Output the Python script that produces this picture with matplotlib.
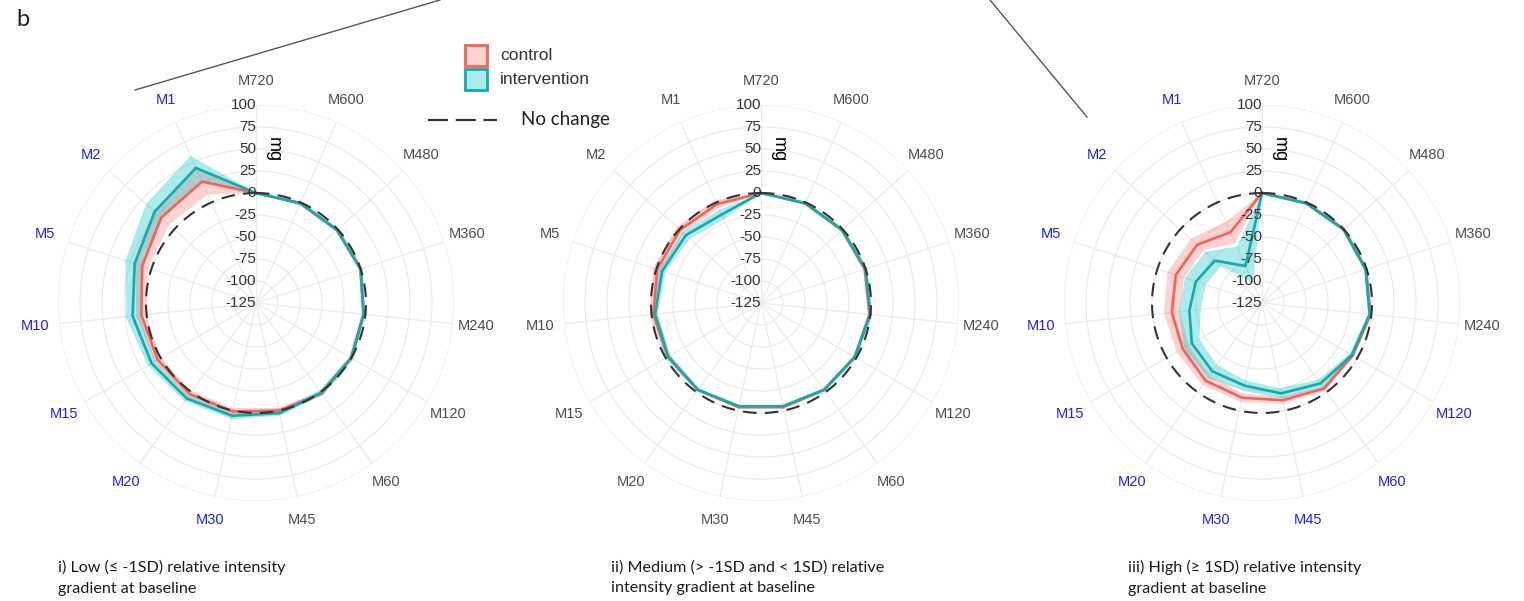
import numpy as np
import matplotlib
matplotlib.use("Agg")
import matplotlib.pyplot as plt
from matplotlib.lines import Line2D
from matplotlib.patches import Rectangle

# ---------------- data ----------------
categories = ["M720", "M600", "M480", "M360", "M240", "M120", "M60", "M45",
              "M30", "M20", "M15", "M10", "M5", "M2", "M1"]
radial_ticks = [100, 75, 50, 25, 0, -25, -50, -75, -100, -125]

# Panel i) Low
low_ctrl_mean = [0, -1, -1, 0, -2, 0, 2, 0, 1, 3, 4, 6, 11, 20, 26]
low_ctrl_lo   = [0, -3, -3, -2, -4, -3, -1, -3, -3, -1, 0, 1, 4, 8, 10]
low_ctrl_hi   = [0, 1, 1, 2, 0, 3, 5, 3, 5, 7, 8, 12, 19, 32, 42]
low_int_mean  = [0, -1, -1, 0, -2, 0, 1, 3, 6, 9, 12, 16, 20, 30, 43]
low_int_lo    = [0, -3, -3, -2, -4, -2, -2, 0, 3, 5, 7, 8, 10, 18, 28]
low_int_hi    = [0, 1, 1, 2, 0, 2, 4, 6, 10, 13, 17, 24, 31, 43, 58]
low_blue = ["M1", "M2", "M5", "M10", "M15", "M20", "M30"]

# Panel ii) Medium
med_ctrl_mean = [0, -1, -1, -1, -1, -2, -3, -4, -4, -3, -3, -2, -1, -1, -2]
med_ctrl_lo   = [0, -3, -3, -3, -3, -4, -5, -6, -6, -5, -6, -6, -6, -6, -7]
med_ctrl_hi   = [0, 1, 1, 1, 1, 0, -1, -2, -2, -1, 0, 2, 4, 4, 3]
med_int_mean  = [0, -1, -1, 0, 0, -2, -3, -5, -5, -3, -3, -4, -7, -10, -15]
med_int_lo    = [0, -3, -3, -2, -2, -4, -5, -7, -7, -5, -6, -7, -11, -16, -21]
med_int_hi    = [0, 1, 1, 2, 2, 0, -1, -3, -3, -1, 0, -1, -3, -5, -9]
med_blue = []

# Panel iii) High
high_ctrl_mean = [0, -1, 0, -1, -1, -6, -5, -12, -15, -16, -21, -22, -22, -26, -37]
high_ctrl_lo   = [0, -3, -2, -3, -3, -8, -8, -16, -20, -23, -29, -31, -32, -36, -50]
high_ctrl_hi   = [0, 1, 2, 1, 1, -4, -2, -8, -10, -10, -13, -13, -12, -16, -24]
high_int_mean  = [0, -1, 0, -1, -2, -7, -12, -20, -29, -29, -33, -42, -46, -53, -79]
high_int_lo    = [0, -3, -2, -3, -4, -10, -17, -26, -35, -38, -43, -55, -58, -62, -100]
high_int_hi    = [0, 1, 2, 1, 0, -4, -7, -14, -23, -20, -23, -30, -33, -38, -55]
high_blue = ["M1", "M2", "M5", "M10", "M15", "M20", "M30", "M45", "M60", "M120"]

captions = [
    "i) Low (\u2264 -1SD) relative intensity\ngradient at baseline",
    "ii) Medium (> -1SD and < 1SD) relative\nintensity gradient at baseline",
    "iii) High (\u2265 1SD) relative intensity\ngradient at baseline",
]
caption_x = [58, 611, 1128]

panels = [
    (low_ctrl_mean, low_ctrl_lo, low_ctrl_hi, low_int_mean, low_int_lo, low_int_hi, low_blue),
    (med_ctrl_mean, med_ctrl_lo, med_ctrl_hi, med_int_mean, med_int_lo, med_int_hi, med_blue),
    (high_ctrl_mean, high_ctrl_lo, high_ctrl_hi, high_int_mean, high_int_lo, high_int_hi, high_blue),
]

# ---------------- style ----------------
W, H = 1524, 601
fig = plt.figure(figsize=(W / 100, H / 100), dpi=100)
fig.patch.set_facecolor("white")

CTRL_LINE = "#F0645C"
CTRL_FILL = "#F8766D"
INT_LINE = "#14AAAA"
INT_FILL = "#00BFC4"
GRID = "#EBEBEB"
BLUE = "#2323E0"
GREY = "#4D4D4D"
TICKFONT = "Liberation Sans"
CAPFONT = "Lato"

centers_x = [256, 761, 1262]
cy = 303
R = 198
rmin, rmax = -125, 100

n = len(categories)
theta = np.arange(n) * 2 * np.pi / n


def closed(a):
    a = np.asarray(a, dtype=float)
    return np.concatenate([a, a[:1]])


th_c = closed(theta)
th_c[-1] = 2 * np.pi

for (cm, cl, ch, im, il, ih, blue), cx, cap, capx in zip(panels, centers_x, captions, caption_x):
    ax = fig.add_axes([(cx - R) / W, (H - cy - R) / H, 2 * R / W, 2 * R / H],
                      projection="polar")
    ax.set_theta_zero_location("N")
    ax.set_theta_direction(-1)
    ax.set_ylim(rmin, rmax)
    ax.set_facecolor("none")
    ax.spines["polar"].set_visible(False)
    ax.set_xticks(theta)
    ax.set_xticklabels([])
    ax.set_yticks(radial_ticks)
    ax.set_yticklabels([])
    ax.grid(True, color=GRID, linewidth=0.9)
    ax.tick_params(length=0)

    # bands
    ax.fill(np.concatenate([th_c, th_c[::-1]]),
            np.concatenate([closed(ch), closed(cl)[::-1]]),
            color=CTRL_FILL, alpha=0.32, linewidth=0, zorder=2)
    ax.fill(np.concatenate([th_c, th_c[::-1]]),
            np.concatenate([closed(ih), closed(il)[::-1]]),
            color=INT_FILL, alpha=0.32, linewidth=0, zorder=3)
    # mean lines
    ax.plot(th_c, closed(cm), color=CTRL_LINE, linewidth=1.9, zorder=4)
    ax.plot(th_c, closed(im), color=INT_LINE, linewidth=1.9, zorder=5)
    # no change reference
    tt = np.linspace(0, 2 * np.pi, 361)
    ax.plot(tt, np.zeros_like(tt), color="#333333", linewidth=1.5,
            linestyle=(0, (6.5, 4)), zorder=6)

    # radial labels
    for v in radial_ticks:
        ax.text(0, v, str(v), ha="right", va="center", fontsize=11,
                family=TICKFONT, color="#333333", zorder=7)
    ax.text(np.deg2rad(6.5), 50, "mg", rotation=-90, ha="center", va="center",
            fontsize=13, family=TICKFONT, color="black", zorder=7)

    # category labels
    for t, lab in zip(theta, categories):
        ax.text(t, 127, lab, ha="center", va="center", fontsize=10.5,
                family=TICKFONT, color=BLUE if lab in blue else GREY)

    # caption
    fig.text(capx / W, 1 - 560 / H, cap, ha="left", va="top",
             fontsize=11.6, family=CAPFONT, color="#1a1a1a", linespacing=1.62)

# panel tag
fig.text(16 / W, 1 - 20 / H, "b", fontsize=17, family=CAPFONT, va="center",
         ha="left", color="#222222")

# connector lines
fig.add_artist(Line2D([135 / W, 440 / W], [1 - 90 / H, 1.0], color="#555555",
                      linewidth=1.0, transform=fig.transFigure))
fig.add_artist(Line2D([990 / W, 1087 / W], [1.0, 1 - 117 / H], color="#555555",
                      linewidth=1.0, transform=fig.transFigure))

# legend
for y0, fc, ec in [(45, CTRL_FILL, CTRL_LINE), (69, INT_FILL, INT_LINE)]:
    fig.add_artist(Rectangle((465 / W, 1 - (y0 + 21) / H), 22 / W, 21 / H,
                             facecolor=matplotlib.colors.to_rgba(fc, 0.32),
                             edgecolor=ec, linewidth=2.0,
                             transform=fig.transFigure))
fig.text(500 / W, 1 - 56 / H, "control", fontsize=12.5, family=TICKFONT,
         va="center", ha="left", color="#333333")
fig.text(500 / W, 1 - 80 / H, "intervention", fontsize=12.5, family=TICKFONT,
         va="center", ha="left", color="#333333")
fig.add_artist(Line2D([428 / W, 497 / W], [1 - 120 / H, 1 - 120 / H],
                      color="#333333", linewidth=1.6, linestyle=(0, (9, 3.5)),
                      transform=fig.transFigure))
fig.text(521 / W, 1 - 120 / H, "No change", fontsize=13.5, family=CAPFONT,
         va="center", ha="left", color="#222222")

fig.savefig("out.png", dpi=100, facecolor="white")
